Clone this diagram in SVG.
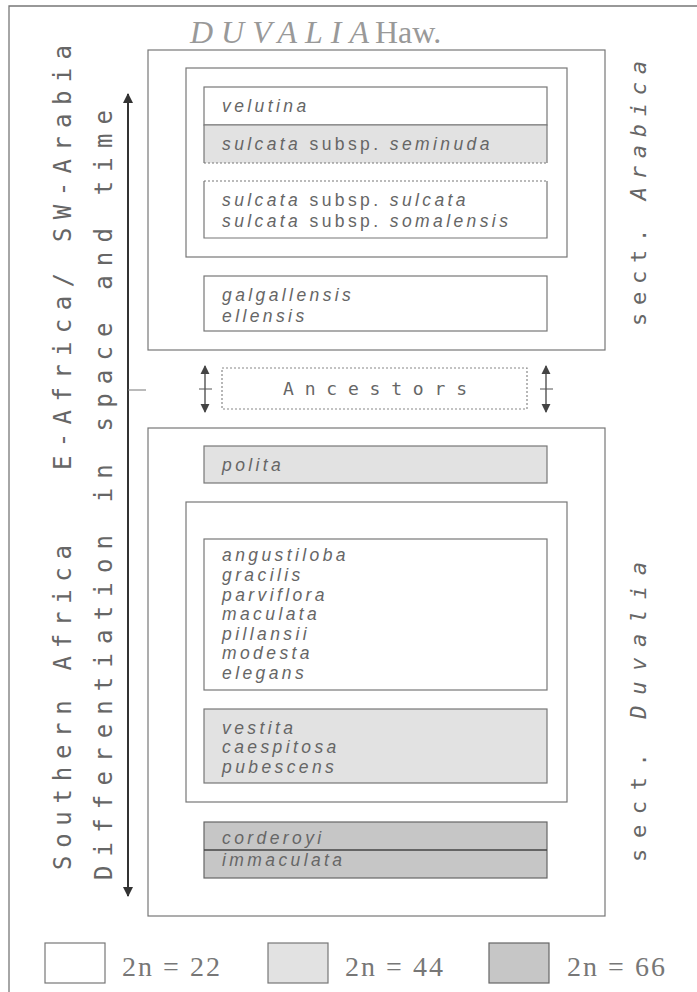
<svg xmlns="http://www.w3.org/2000/svg" width="697" height="992" viewBox="0 0 697 992">
<style>
.frame{fill:none;stroke:#777;stroke-width:1.3}
.box{fill:#fff;stroke:#777;stroke-width:1.2}
.shade1{fill:#e2e2e2;stroke:#777;stroke-width:1.2}
.shade2{fill:#c6c6c6;stroke:#666;stroke-width:1.2}
.sp{font-family:"Liberation Sans",Arial,sans-serif;font-style:italic;font-size:17.5px;fill:#666;letter-spacing:3.4px}
.up{font-style:normal}
.mono{font-family:"DejaVu Sans Mono",monospace;fill:#666}
.leg{font-family:"Liberation Serif",serif;font-size:28px;fill:#777}
.arrow{stroke:#333;stroke-width:2;fill:none}
</style>
<defs>
<marker id="ah" viewBox="0 0 10 10" refX="9" refY="5" markerWidth="5" markerHeight="5" orient="auto-start-reverse" markerUnits="strokeWidth">
<path d="M0,0 L10,5 L0,10 z" fill="#333"/>
</marker>
<marker id="ah2" viewBox="0 0 10 10" refX="9" refY="5" markerWidth="7" markerHeight="7" orient="auto-start-reverse" markerUnits="strokeWidth">
<path d="M0,0 L10,5 L0,10 z" fill="#444"/>
</marker>
</defs>
<rect width="697" height="992" fill="#fff"/>
<path class="frame" d="M9,992 V6 H697"/>

<g id="title">
<text x="190" y="43" font-family="Liberation Serif,serif" font-size="32" font-style="italic" fill="#999" letter-spacing="8">DUVALIA</text>
<text x="375" y="43" font-family="Liberation Serif,serif" font-size="32" fill="#999">Haw.</text>
</g>

<g id="left-labels">
<text class="mono" transform="translate(71,870) rotate(-90)" font-size="24" textLength="325" lengthAdjust="spacing">Southern Africa</text>
<text class="mono" transform="translate(71,470) rotate(-90)" font-size="24" textLength="425" lengthAdjust="spacing">E-Africa/ SW-Arabia</text>
<text class="mono" transform="translate(112,880) rotate(-90)" font-size="24" textLength="770" lengthAdjust="spacing">Differentiation in space and time</text>
</g>

<g id="right-labels">
<text class="mono" transform="translate(646,326) rotate(-90)" font-size="22" textLength="265" lengthAdjust="spacing">sect. <tspan font-style="italic">Arabica</tspan></text>
<text class="mono" transform="translate(646,862) rotate(-90)" font-size="22" textLength="300" lengthAdjust="spacing">sect. <tspan font-style="italic">Duvalia</tspan></text>
</g>

<g id="connectors">
<line class="arrow" x1="128" y1="94" x2="128" y2="896" marker-start="url(#ah)" marker-end="url(#ah)"/>
<line x1="128" y1="390" x2="146" y2="390" stroke="#777" stroke-width="1"/>
<line x1="205" y1="366" x2="205" y2="412" stroke="#444" stroke-width="1.3" marker-start="url(#ah2)" marker-end="url(#ah2)"/>
<line x1="199" y1="389" x2="212" y2="389" stroke="#555" stroke-width="1"/>
<line x1="546" y1="366" x2="546" y2="412" stroke="#444" stroke-width="1.3" marker-start="url(#ah2)" marker-end="url(#ah2)"/>
<line x1="540" y1="389" x2="553" y2="389" stroke="#555" stroke-width="1"/>
</g>

<g id="sect-arabica">
<rect class="box" x="148" y="50" width="457" height="300"/>
</g>
<g id="arabica-inner">
<rect class="box" x="186" y="68" width="381" height="189"/>
</g>
<g id="velutina">
<rect class="box" x="204" y="87" width="343" height="38"/>
<text class="sp" x="222" y="112">velutina</text>
</g>
<g id="seminuda">
<rect x="204" y="125" width="343" height="38" fill="#e2e2e2"/>
<path d="M204,163 V125 H547 V163" fill="none" stroke="#777" stroke-width="1.2"/>
<line x1="204" y1="163" x2="547" y2="163" stroke="#777" stroke-width="1.2" stroke-dasharray="2,2"/>
<text class="sp" x="222" y="150">sulcata <tspan class="up">subsp.</tspan> seminuda</text>
</g>
<g id="sulcata">
<path d="M204,181 V238 H547 V181" fill="#fff" stroke="#777" stroke-width="1.2"/>
<line x1="204" y1="181" x2="547" y2="181" stroke="#777" stroke-width="1.2" stroke-dasharray="2,2"/>
<text class="sp" x="222" y="206">sulcata <tspan class="up">subsp.</tspan> sulcata</text>
<text class="sp" x="222" y="227">sulcata <tspan class="up">subsp.</tspan> somalensis</text>
</g>
<g id="galgallensis">
<rect class="box" x="204" y="276" width="343" height="55"/>
<text class="sp" x="222" y="301">galgallensis</text>
<text class="sp" x="222" y="322">ellensis</text>
</g>

<g id="ancestors">
<rect x="222" y="368" width="305" height="41" fill="none" stroke="#888" stroke-width="1.2" stroke-dasharray="2,2"/>
<text class="mono" x="283" y="395" font-size="18" textLength="184" lengthAdjust="spacing">Ancestors</text>
</g>

<g id="sect-duvalia">
<rect class="box" x="148" y="428" width="457" height="488"/>
</g>
<g id="polita">
<rect class="shade1" x="204" y="446" width="343" height="37"/>
<text class="sp" x="222" y="471">polita</text>
</g>
<g id="duvalia-inner">
<rect class="box" x="186" y="502" width="381" height="300"/>
</g>
<g id="angustiloba">
<rect class="box" x="204" y="539" width="343" height="151"/>
<text class="sp" x="222" y="561">angustiloba</text>
<text class="sp" x="222" y="581">gracilis</text>
<text class="sp" x="222" y="601">parviflora</text>
<text class="sp" x="222" y="620">maculata</text>
<text class="sp" x="222" y="640">pillansii</text>
<text class="sp" x="222" y="659">modesta</text>
<text class="sp" x="222" y="679">elegans</text>
</g>
<g id="vestita">
<rect class="shade1" x="204" y="709" width="343" height="74"/>
<text class="sp" x="222" y="734">vestita</text>
<text class="sp" x="222" y="753">caespitosa</text>
<text class="sp" x="222" y="773">pubescens</text>
</g>
<g id="corderoyi">
<rect class="shade2" x="204" y="822" width="343" height="56"/>
<line x1="204" y1="850" x2="547" y2="850" stroke="#444" stroke-width="1.3"/>
<text class="sp" x="222" y="844">corderoyi</text>
<text class="sp" x="222" y="866">immaculata</text>
</g>

<g id="legend">
<rect class="box" x="45" y="943" width="60" height="40"/>
<text class="leg" x="122" y="976" textLength="98" lengthAdjust="spacing">2n = 22</text>
<rect class="shade1" x="268" y="943" width="60" height="40"/>
<text class="leg" x="345" y="976" textLength="98" lengthAdjust="spacing">2n = 44</text>
<rect class="shade2" x="489" y="943" width="60" height="40"/>
<text class="leg" x="567" y="976" textLength="98" lengthAdjust="spacing">2n = 66</text>
</g>
</svg>
